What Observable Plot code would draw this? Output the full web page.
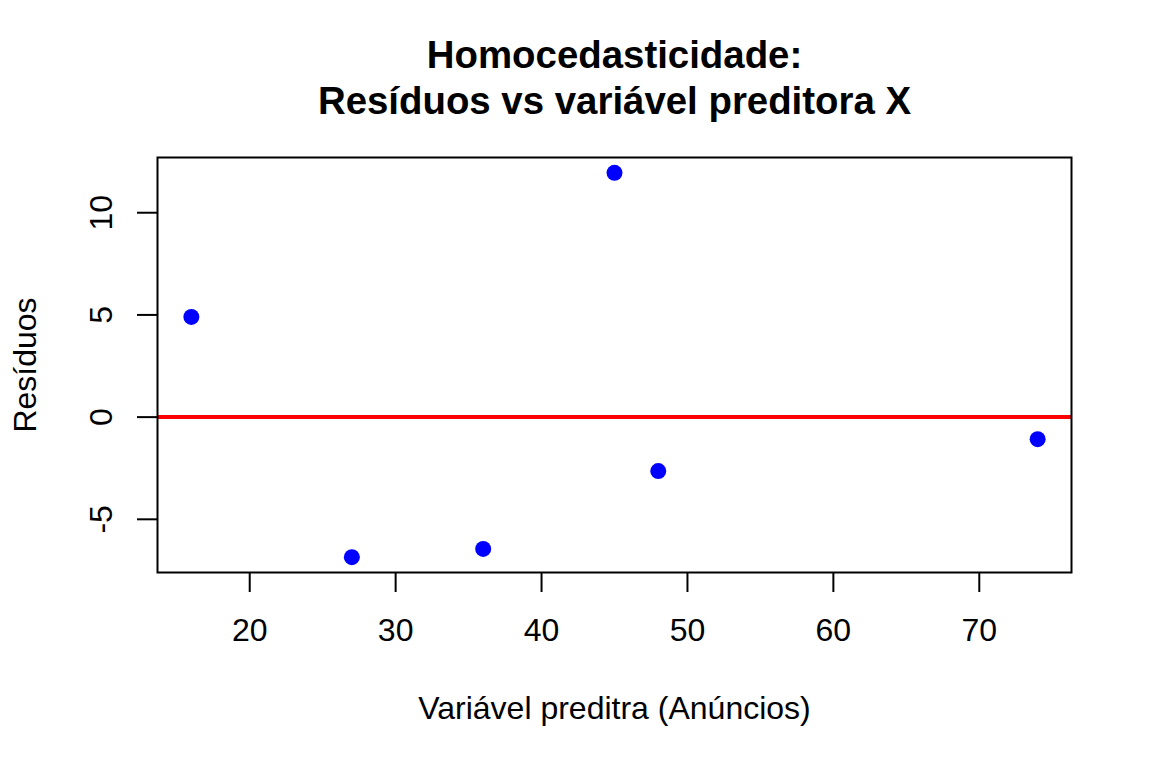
<!DOCTYPE html>
<html>
<head>
<meta charset="utf-8">
<script src="https://cdn.jsdelivr.net/npm/d3@7"></script>
<script src="https://cdn.jsdelivr.net/npm/@observablehq/plot@0.6"></script>
<style>
  html, body { margin: 0; padding: 0; background: white; overflow: hidden; }
</style>
</head>
<body>
<div id="chart"></div>
<script>
// Data
const anuncios = [16, 27, 36, 45, 48, 74];
const residuos = [4.9, -6.85, -6.45, 11.95, -2.64, -1.08];
const xTicks = [20, 30, 40, 50, 60, 70];
const yTicks = [-5, 0, 5, 10];
const titleLines = ["Homocedasticidade:", "Resíduos vs variável preditora X"];
const xLabel = "Variável preditra (Anúncios)";
const yLabel = "Resíduos";

const points = anuncios.map((x, i) => ({x, y: residuos[i]}));

// R-style 4% padded ranges
function pad(ext) { const d = (ext[1] - ext[0]) * 0.04; return [ext[0] - d, ext[1] + d]; }
const xDomain = pad(d3.extent(anuncios));
const yDomain = pad(d3.extent(residuos));

const font = "'Liberation Sans', Arial, Helvetica, sans-serif";

const chart = Plot.plot({
  width: 1152,
  height: 768,
  marginTop: 157,
  marginRight: 81,
  marginBottom: 196,
  marginLeft: 157,
  style: {fontFamily: font, fontSize: "32px", background: "white", color: "black"},
  x: {domain: xDomain},
  y: {domain: yDomain},
  marks: [
    Plot.ruleY([0], {stroke: "#ff0000", strokeWidth: 4}),
    Plot.dot(points, {x: "x", y: "y", r: 8, fill: "#0000ff", stroke: null}),
    Plot.frame({stroke: "black", strokeWidth: 2}),
    Plot.axisX({ticks: xTicks, tickSize: 20, tickPadding: 26, fontSize: 32, label: null, strokeWidth: 2, tickFormat: d => String(d)}),
    Plot.axisY({ticks: yTicks, tickSize: 20, tickPadding: 26, tickRotate: -90, fontSize: 32, label: null, strokeWidth: 2, tickFormat: d => String(d)}),
    Plot.text([titleLines[0]], {frameAnchor: "top", dy: -102, text: d => d, fontSize: 38.4, fontWeight: "bold", lineAnchor: "middle", fill: "black"}),
    Plot.text([titleLines[1]], {frameAnchor: "top", dy: -56, text: d => d, fontSize: 38.4, fontWeight: "bold", lineAnchor: "middle", fill: "black"}),
    Plot.text([xLabel], {frameAnchor: "bottom", dy: 136, text: d => d, fontSize: 32, lineAnchor: "middle", fill: "black"}),
    Plot.text([yLabel], {frameAnchor: "left", dx: -122, rotate: -90, text: d => d, fontSize: 32, textAnchor: "middle", lineAnchor: "bottom", fill: "black"})
  ]
});
document.getElementById("chart").appendChild(chart);
</script>
</body>
</html>
